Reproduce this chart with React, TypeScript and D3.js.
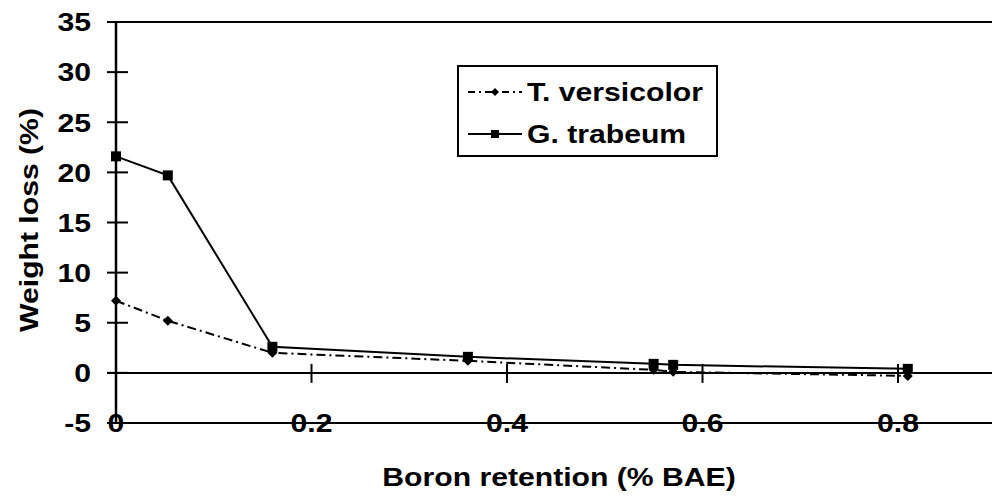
import React from "react";
import * as d3 from "d3";

const boronTV = [0, 0.053, 0.16, 0.36, 0.55, 0.57, 0.81];
const lossTV = [7.2, 5.2, 2.0, 1.2, 0.3, 0.1, -0.3];
const boronGT = [0, 0.053, 0.16, 0.36, 0.55, 0.57, 0.81];
const lossGT = [21.6, 19.7, 2.6, 1.6, 0.9, 0.8, 0.4];
const yTicks = [-5, 0, 5, 10, 15, 20, 25, 30, 35];
const xTicks = [0, 0.2, 0.4, 0.6, 0.8];
const seriesNames = ["T. versicolor", "G. trabeum"];

const W = 992;
const H = 499;
const FONT = "'Liberation Sans', Arial, sans-serif";
const SX = 1.16;

function T(props: { x: number; y: number; anchor?: string; rotate?: number; children: React.ReactNode }) {
  const { x, y, anchor = "start", rotate = 0, children } = props;
  return (
    <text
      transform={`translate(${x},${y}) rotate(${rotate}) scale(${SX},1)`}
      textAnchor={anchor}
      dy="0.36em"
      fontSize={26}
    >
      {children}
    </text>
  );
}

export default function App() {
  const x = d3.scaleLinear().domain([0, 0.8]).range([116, 898]);
  const y = d3.scaleLinear().domain([-5, 35]).range([423, 22]);
  const line = d3
    .line<[number, number]>()
    .x((d) => x(d[0]))
    .y((d) => y(d[1]));
  const tv: [number, number][] = boronTV.map((b, i) => [b, lossTV[i]]);
  const gt: [number, number][] = boronGT.map((b, i) => [b, lossGT[i]]);
  const xStart = 107;
  const xEnd = W;

  return (
    <svg
      width={W}
      height={H}
      style={{ position: "absolute", left: 0, top: 0, background: "#fff" }}
      fontFamily={FONT}
      fontWeight="bold"
    >
      <line x1={xStart} x2={xEnd} y1={y(35)} y2={y(35)} stroke="#000" strokeWidth={2} />
      <line x1={xStart} x2={xEnd} y1={y(0)} y2={y(0)} stroke="#000" strokeWidth={2} />
      <line x1={xStart} x2={xEnd} y1={y(-5)} y2={y(-5)} stroke="#000" strokeWidth={2} />
      <line x1={x(0)} x2={x(0)} y1={y(35)} y2={y(-5)} stroke="#000" strokeWidth={2.5} />
      {yTicks.map((t) => (
        <g key={"y" + t}>
          <line x1={107} x2={128} y1={y(t)} y2={y(t)} stroke="#000" strokeWidth={2} />
          <T x={91} y={y(t)} anchor="end">
            {t}
          </T>
        </g>
      ))}
      {xTicks.map((t) => (
        <g key={"x" + t}>
          <line x1={x(t)} x2={x(t)} y1={y(0) - 9} y2={y(0) + 10} stroke="#000" strokeWidth={2} />
          <T x={x(t)} y={y(-5)} anchor="middle">
            {t === 0 ? "0" : t.toFixed(1)}
          </T>
        </g>
      ))}
      <path d={line(gt) || ""} fill="none" stroke="#000" strokeWidth={2} />
      <path
        d={line(tv) || ""}
        fill="none"
        stroke="#000"
        strokeWidth={2}
        strokeDasharray="9 4 2 4"
      />
      {gt.map((d, i) => (
        <rect key={"g" + i} x={x(d[0]) - 5} y={y(d[1]) - 5} width={10} height={10} fill="#000" />
      ))}
      {tv.map((d, i) => (
        <path
          key={"t" + i}
          d={`M${x(d[0])},${y(d[1]) - 5}L${x(d[0]) + 5},${y(d[1])}L${x(d[0])},${y(d[1]) + 5}L${x(d[0]) - 5},${y(d[1])}Z`}
          fill="#000"
        />
      ))}
      <rect x={458} y={66} width={259} height={90} fill="#fff" stroke="#000" strokeWidth={2} />
      <line x1={468} x2={522} y1={92} y2={92} stroke="#000" strokeWidth={2} strokeDasharray="7 4 2 4" />
      <path d="M495,88L499,92L495,96L491,92Z" fill="#000" />
      <T x={527} y={92}>{seriesNames[0]}</T>
      <line x1={468} x2={522} y1={134} y2={134} stroke="#000" strokeWidth={2} />
      <rect x={491} y={130} width={8} height={8} fill="#000" />
      <T x={527} y={134}>{seriesNames[1]}</T>
      <T x={29} y={220} anchor="middle" rotate={-90}>
        Weight loss (%)
      </T>
      <T x={559} y={477} anchor="middle">
        Boron retention (% BAE)
      </T>
    </svg>
  );
}
